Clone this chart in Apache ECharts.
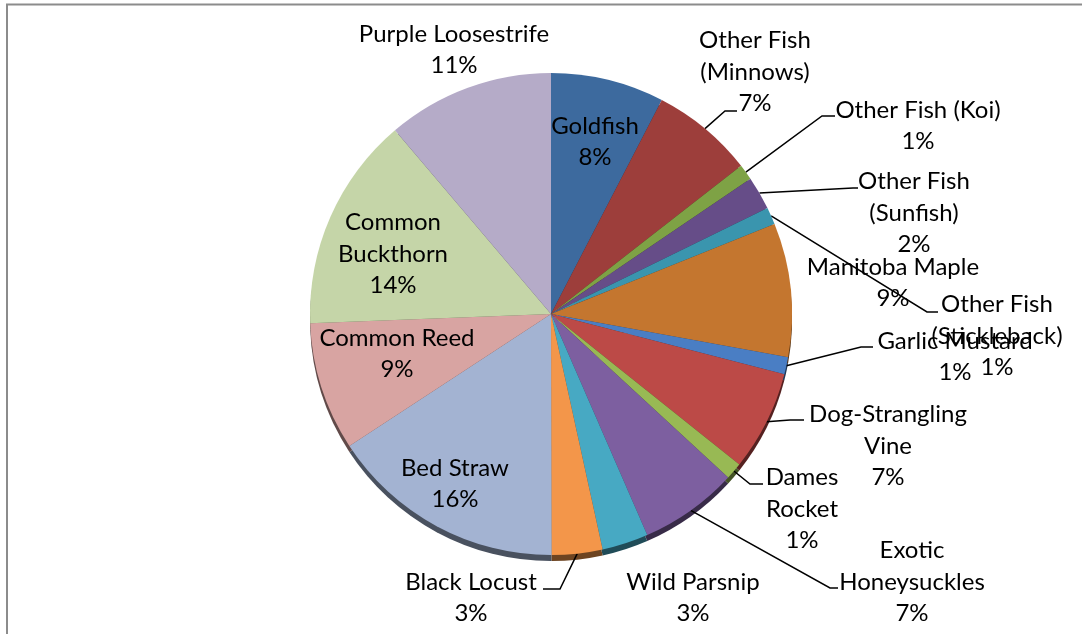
<!DOCTYPE html>
<html>
<head>
<meta charset="utf-8">
<script src="https://cdn.jsdelivr.net/npm/echarts@6/dist/echarts.min.js"></script>
<style>
html,body{margin:0;padding:0;background:#fff;}
#chart{width:1082px;height:634px;}
</style>
</head>
<body>
<div id="chart"></div>
<script>
// ---- data ----
const categories = ['Goldfish', 'Other Fish (Minnows)', 'Other Fish (Koi)', 'Other Fish (Sunfish)',
  'Other Fish (Stickleback)', 'Manitoba Maple', 'Garlic Mustard', 'Dog-Strangling Vine',
  'Dames Rocket', 'Exotic Honeysuckles', 'Wild Parsnip', 'Black Locust', 'Bed Straw',
  'Common Reed', 'Common Buckthorn', 'Purple Loosestrife'];
const values = [7.6, 6.85, 1.05, 2.24, 1.15, 8.96, 1.15, 6.7, 1.13, 6.6, 3.1, 3.4, 15.8, 8.6, 14.4, 11.2];
const labelNames = ['Goldfish', 'Other Fish\n(Minnows)', 'Other Fish (Koi)', 'Other Fish\n(Sunfish)',
  'Other Fish\n(Stickleback)', 'Manitoba Maple', 'Garlic Mustard', 'Dog-Strangling\nVine',
  'Dames\nRocket', 'Exotic\nHoneysuckles', 'Wild Parsnip', 'Black Locust', 'Bed Straw',
  'Common Reed', 'Common\nBuckthorn', 'Purple Loosestrife'];

// ---- styling / layout ----
const colors = ['#3D6A9E', '#9D3E3B', '#7EA245', '#664D88', '#3A95AE', '#C4762F', '#4A7EC4', '#BC4A47',
  '#98B954', '#7D5FA0', '#47A9C3', '#F3964A', '#A3B3D2', '#D8A4A2', '#C5D5A8', '#B5ABC8'];
const labelCenter = [[595,142],[755,72],[918,126],[914,213],[997,336],[893,283],[955,357],[888,446],
  [802,509],[912,582],[693,598],[471,598],[455,484],[397,354],[393,254],[454,50]];
const inside = [true,false,false,false,false,false,false,false,false,false,false,false,true,true,true,false];
const leader = {
  1: [[725,111],[737,111]],
  2: [[822,116],[835,116]],
  3: [[853,188],[858,188]],
  4: [[927,312],[938,312]],
  6: [[861,347],[873,347]],
  7: [[790,420],[804,420]],
  8: [[750,484],[763,484]],
  9: [[830,588],[838,588]],
  11: [[560,589],[543,589]]
};
const CENTER = [551, 314];
const RADIUS = 241;

function darken(hex, f) {
  const n = parseInt(hex.slice(1), 16);
  const r = Math.round(((n >> 16) & 255) * f), g = Math.round(((n >> 8) & 255) * f), b = Math.round((n & 255) * f);
  return 'rgb(' + r + ',' + g + ',' + b + ')';
}

const mainData = categories.map((c, i) => ({
  name: c,
  value: values[i],
  itemStyle: { color: colors[i] },
  label: { position: inside[i] ? 'inside' : 'outside' },
  labelLine: { show: !!leader[i] }
}));
const shadowData = categories.map((c, i) => ({
  name: c,
  value: values[i],
  itemStyle: { color: darken(colors[i], 0.45) }
}));

const chart = echarts.init(document.getElementById('chart'), null, { renderer: 'canvas' });
chart.setOption({
  animation: false,
  backgroundColor: '#ffffff',
  graphic: [{
    type: 'polyline',
    shape: { points: [[7, 634], [7, 4.5], [1082, 4.5]] },
    style: { stroke: '#8c8c8c', lineWidth: 2, fill: null },
    silent: true
  }],
  series: [
    {
      type: 'pie',
      silent: true,
      center: [CENTER[0], CENTER[1] + 6],
      radius: RADIUS,
      startAngle: 90,
      clockwise: true,
      z: 1,
      label: { show: false },
      labelLine: { show: false },
      data: shadowData
    },
    {
      type: 'pie',
      center: CENTER,
      radius: RADIUS,
      startAngle: 90,
      clockwise: true,
      avoidLabelOverlap: false,
      z: 2,
      itemStyle: { borderWidth: 0 },
      label: {
        show: true,
        fontFamily: 'Lato',
        fontSize: 24,
        lineHeight: 31.5,
        color: '#000',
        align: 'center',
        formatter: function (p) {
          return labelNames[p.dataIndex] + '\n' + Math.round(p.percent) + '%';
        }
      },
      labelLine: {
        show: true,
        length: 10,
        length2: 10,
        lineStyle: { color: '#000', width: 1.5 }
      },
      labelLayout: function (params) {
        const i = params.dataIndex;
        const res = {
          x: labelCenter[i][0],
          y: labelCenter[i][1],
          align: 'center',
          verticalAlign: 'middle'
        };
        if (leader[i] && params.labelLinePoints) {
          const start = params.labelLinePoints[0];
          res.labelLinePoints = [start, leader[i][0], leader[i][1]];
        }
        return res;
      },
      data: mainData
    }
  ]
});
</script>
</body>
</html>
